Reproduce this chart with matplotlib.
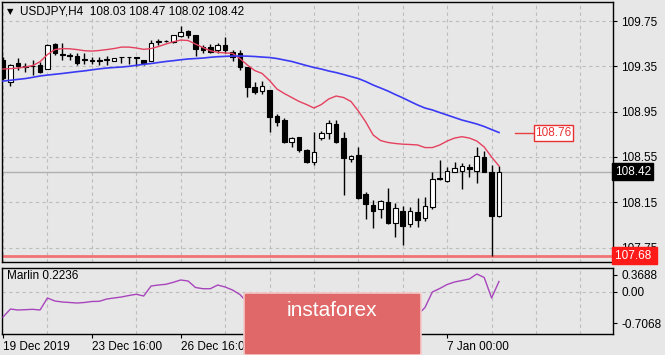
import numpy as np
import matplotlib
matplotlib.use("Agg")
import matplotlib.pyplot as plt
from matplotlib.patches import FancyBboxPatch
import matplotlib.transforms as mtransforms

# ---- data (USDJPY H4) ----
opens = [109.41, 109.21, 109.38, 109.35, 109.355, 109.36, 109.33, 109.545, 109.455, 109.445,
         109.445, 109.41, 109.40, 109.40, 109.405, 109.40, 109.43, 109.43, 109.43, 109.41,
         109.40, 109.565, 109.57, 109.565, 109.615, 109.66, 109.626, 109.52, 109.52, 109.49,
         109.54, 109.48, 109.465, 109.34, 109.165, 109.13, 109.14, 108.91, 108.875, 108.68,
         108.725, 108.61, 108.505, 108.72, 108.76, 108.845, 108.715, 108.53, 108.565, 108.22,
         108.125, 108.09, 108.155, 107.965, 108.07, 107.955, 108.065, 108.01, 108.11, 108.36,
         108.34, 108.42, 108.43, 108.465, 108.43, 108.55, 108.42, 108.03]
highs = [109.43, 109.37, 109.42, 109.38, 109.41, 109.39, 109.545, 109.56, 109.56, 109.47,
         109.465, 109.47, 109.43, 109.435, 109.44, 109.425, 109.43, 109.43, 109.43, 109.41,
         109.58, 109.59, 109.58, 109.63, 109.706, 109.67, 109.626, 109.54, 109.55, 109.56,
         109.61, 109.49, 109.49, 109.34, 109.21, 109.22, 109.14, 108.93, 108.89, 108.725,
         108.725, 108.62, 108.77, 108.775, 108.875, 108.875, 108.77, 108.57, 108.64, 108.245,
         108.17, 108.17, 108.28, 108.14, 108.115, 108.105, 108.185, 108.20, 108.42, 108.52,
         108.465, 108.51, 108.50, 108.49, 108.64, 108.60, 108.48, 108.47]
lows = [109.23, 109.18, 109.32, 109.30, 109.27, 109.29, 109.325, 109.45, 109.41, 109.41,
        109.36, 109.375, 109.37, 109.36, 109.36, 109.40, 109.38, 109.375, 109.35, 109.36,
        109.40, 109.54, 109.565, 109.56, 109.61, 109.60, 109.44, 109.465, 109.465, 109.47,
        109.465, 109.40, 109.32, 109.08, 109.11, 109.11, 108.77, 108.82, 108.67, 108.64,
        108.595, 108.50, 108.475, 108.70, 108.71, 108.67, 108.21, 108.51, 108.175, 108.00,
        107.92, 108.01, 107.96, 107.84, 107.775, 107.93, 107.93, 107.985, 108.09, 108.345,
        108.33, 108.42, 108.265, 108.37, 108.32, 108.415, 107.68, 108.02]
closes = [109.25, 109.36, 109.35, 109.345, 109.35, 109.30, 109.54, 109.465, 109.45, 109.44,
          109.38, 109.405, 109.40, 109.398, 109.41, 109.425, 109.43, 109.43, 109.428, 109.38,
          109.56, 109.57, 109.575, 109.625, 109.655, 109.625, 109.50, 109.49, 109.48, 109.535,
          109.49, 109.435, 109.34, 109.165, 109.126, 109.18, 108.90, 108.86, 108.68, 108.715,
          108.61, 108.51, 108.59, 108.76, 108.85, 108.68, 108.54, 108.56, 108.19, 108.135,
          108.07, 108.165, 107.97, 108.10, 107.94, 108.07, 107.99, 108.115, 108.36, 108.355,
          108.43, 108.45, 108.47, 108.445, 108.555, 108.42, 108.03, 108.42]

ma_fast = [109.326, 109.33, 109.335, 109.344, 109.357, 109.391, 109.454, 109.498, 109.507, 109.505,
           109.498, 109.488, 109.485, 109.49, 109.498, 109.507, 109.52, 109.52, 109.512, 109.50,
           109.507, 109.525, 109.547, 109.567, 109.582, 109.578, 109.547, 109.516, 109.488, 109.474,
           109.468, 109.465, 109.419, 109.362, 109.313, 109.287, 109.225, 109.15, 109.11, 109.075,
           109.04, 109.013, 108.982, 109.013, 109.062, 109.088, 109.075, 109.04, 108.956, 108.859,
           108.744, 108.695, 108.678, 108.669, 108.663, 108.66, 108.656, 108.633, 108.633, 108.656,
           108.691, 108.717, 108.729, 108.717, 108.691, 108.638, 108.55, 108.47]
ma_slow = [109.22, 109.227, 109.235, 109.242, 109.253, 109.265, 109.273, 109.28, 109.287, 109.295,
           109.303, 109.31, 109.319, 109.328, 109.335, 109.34, 109.344, 109.35, 109.359, 109.368,
           109.375, 109.384, 109.393, 109.40, 109.408, 109.415, 109.419, 109.423, 109.43, 109.435,
           109.438, 109.441, 109.441, 109.44, 109.437, 109.432, 109.428, 109.419, 109.406, 109.393,
           109.375, 109.357, 109.34, 109.326, 109.309, 109.295, 109.278, 109.26, 109.242, 109.216,
           109.185, 109.159, 109.132, 109.101, 109.072, 109.04, 109.009, 108.982, 108.965, 108.942,
           108.92, 108.898, 108.876, 108.859, 108.841, 108.819, 108.792, 108.766]
marlin = [-0.567, -0.389, -0.411, -0.404, -0.396, -0.411, -0.144, -0.211, -0.233, -0.244,
          -0.256, -0.244, -0.222, -0.218, -0.167, -0.144, -0.122, -0.089, -0.062, -0.10,
          0.122, 0.144, 0.16, 0.204, 0.256, 0.233, 0.089, 0.062, 0.062, 0.144,
          0.10, 0.033, -0.067, -0.244, -0.316, -0.24, -0.456, -0.556, -0.707, -0.656,
          -0.70, -0.689, -0.611, -0.433, -0.233, -0.322, -0.433, -0.544, -0.678, -0.833,
          -0.811, -0.667, -0.689, -0.622, -0.678, -0.544, -0.522, -0.356, -0.011, 0.067,
          0.156, 0.211, 0.244, 0.278, 0.389, 0.311, -0.144, 0.2236]

date_pos = [0, 12, 24, 60]
date_labels = ["19 Dec 2019", "23 Dec 16:00", "26 Dec 16:00", "7 Jan 00:00"]
price_ticks = [109.75, 109.35, 108.95, 108.55, 108.15, 107.75]
marlin_ticks = [0.3688, 0.0, -0.7068]
marlin_labels = ["0.3688", "0.00", "-0.7068"]
bid = 108.42
low_level = 107.68
ma_slow_last = 108.76
title = "USDJPY,H4  108.03 108.47 108.02 108.42"

# ---- style ----
BG = "#e7e7e7"
GRID = "#bdbdbd"
RED_MA = "#e5405e"
BLUE_MA = "#3a3af5"
PURPLE = "#a845bd"
LEVEL = "#f27373"
plt.rcParams["font.family"] = ["Liberation Sans", "DejaVu Sans"]
plt.rcParams["font.size"] = 8.5

W, H = 665, 355
fig = plt.figure(figsize=(W / 100, H / 100), dpi=100, facecolor=BG)

def px_axes(x0, y0, x1, y1):
    return fig.add_axes([x0 / W, 1 - y1 / H, (x1 - x0) / W, (y1 - y0) / H])

ax = px_axes(2, 2, 613, 262)
ax2 = px_axes(2, 268, 613, 334)
xlim = (-0.14, 82.4)

for a in (ax, ax2):
    a.set_facecolor(BG)
    for s in a.spines.values():
        s.set_color("black")
        s.set_linewidth(1)
    a.set_xlim(*xlim)
    a.yaxis.tick_right()
    a.tick_params(axis="y", direction="out", length=3, pad=3, labelsize=8.5)
    a.set_xticks(np.arange(0, 84, 6), minor=True)
    a.grid(True, which="minor", axis="x", color=GRID, linestyle=(0, (3, 3)), linewidth=0.8)
    a.tick_params(axis="x", which="minor", length=0)
    a.set_axisbelow(True)

# ---- main candlestick panel ----
x = np.arange(len(opens))
o = np.array(opens); c = np.array(closes); h = np.array(highs); l = np.array(lows)
ax.vlines(x, l, h, color="black", linewidth=1, zorder=3)
bottoms = np.minimum(o, c)
heights = np.maximum(np.abs(c - o), 0.006)
faces = ["white" if cc > oo + 0.004 else "black" for oo, cc in zip(o, c)]
ax.bar(x, heights, bottom=bottoms, width=0.62, color=faces, edgecolor="black",
       linewidth=0.8, zorder=4)

ax.plot(x, ma_fast, color=RED_MA, linewidth=1, zorder=5)
ax.plot(x, ma_slow, color=BLUE_MA, linewidth=1.2, zorder=5)

ax.axhline(bid, color="#b0b0b0", linewidth=1, zorder=1)
ax.axhline(low_level, color=LEVEL, linewidth=2, zorder=2)

ax.set_ylim(107.623, 109.918)
ax.set_yticks(price_ticks)
ax.set_yticklabels(["%.2f" % t for t in price_ticks])
ax.grid(True, which="major", axis="y", color=GRID, linestyle=(0, (3, 3)), linewidth=0.8)
ax.set_xticks([])

# last value label of the slow MA
ax.plot([69.2, 71.7], [ma_slow_last, ma_slow_last], color="#e84040", linewidth=1, zorder=6)
ax.text(71.9, ma_slow_last, "%.2f" % ma_slow_last, color="#e83030", fontsize=8.5,
        va="center", ha="left", zorder=6,
        bbox=dict(boxstyle="square,pad=0.15", facecolor="white", edgecolor="#e83030", linewidth=1))

# price boxes on the right axis
trans = mtransforms.blended_transform_factory(ax.transAxes, ax.transData)
ax.text(1.003, bid, "%.2f" % bid, transform=trans, color="white", fontsize=8.5,
        va="center", ha="left", zorder=10, clip_on=False,
        bbox=dict(boxstyle="square,pad=0.2", facecolor="black", edgecolor="black"))
ax.text(1.003, low_level, "%.2f " % low_level, transform=trans, color="white", fontsize=8.5,
        va="center", ha="left", zorder=10, clip_on=False,
        bbox=dict(boxstyle="square,pad=0.2", facecolor="#ff1a1a", edgecolor="#ff1a1a"))

# ---- indicator panel ----
ax2.plot(x, marlin, color=PURPLE, linewidth=1, zorder=3)
ax2.set_ylim(-0.944, 0.522)
ax2.set_yticks(marlin_ticks)
ax2.set_yticklabels(marlin_labels)
ax2.axhline(0, color=GRID, linestyle=(0, (3, 3)), linewidth=0.8, zorder=1)
ax2.set_xticks(date_pos)
ax2.set_xticklabels(date_labels)
ax2.tick_params(axis="x", which="major", direction="out", length=3, pad=2, labelsize=8.5)
for lbl in ax2.get_xticklabels():
    lbl.set_ha("left")
ax2.text(0.008, 0.88, "Marlin 0.2236", transform=ax2.transAxes, fontsize=8.5,
         va="center", ha="left")

# ---- header ----
fig.text(7 / W, 1 - 12 / H, "\u25bc", fontsize=6, va="center", ha="left",
         family=["DejaVu Sans"])
fig.text(20 / W, 1 - 12 / H, title, fontsize=8.5, va="center", ha="left")

# ---- watermark ----
logo = FancyBboxPatch((244 / W, 0), 177 / W, 62 / H, transform=fig.transFigure,
                      boxstyle="round,pad=0,rounding_size=0.004",
                      facecolor="#e06868", edgecolor="#f4c8c8", linewidth=1.2, zorder=20)
fig.patches.append(logo)
fig.text(332 / W, 1 - 311 / H, "instaforex", color="white", fontsize=15,
         va="center", ha="center", zorder=21)

fig.savefig("out.png", dpi=100, facecolor=BG)
